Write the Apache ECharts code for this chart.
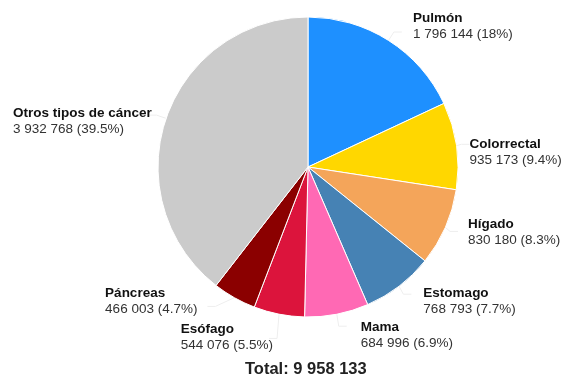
<!DOCTYPE html>
<html>
<head>
<meta charset="utf-8">
<script src="https://cdn.jsdelivr.net/npm/echarts@6/dist/echarts.min.js"></script>
<style>
html, body { margin: 0; padding: 0; background: #fff; }
#chart { width: 561px; height: 377px; }
</style>
</head>
<body>
<div id="chart"></div>
<script>
var categories = ['Pulmón', 'Colorrectal', 'Hígado', 'Estomago', 'Mama', 'Esófago', 'Páncreas', 'Otros tipos de cáncer'];
var values = [1796144, 935173, 830180, 768793, 684996, 544076, 466003, 3932768];
var valueLabels = ['1 796 144', '935 173', '830 180', '768 793', '684 996', '544 076', '466 003', '3 932 768'];
var percentLabels = ['18%', '9.4%', '8.3%', '7.7%', '6.9%', '5.5%', '4.7%', '39.5%'];
var colors = ['#1e90ff', '#ffd700', '#f4a55a', '#4682b4', '#ff69b4', '#dc143c', '#8b0000', '#cbcbcb'];
var totalText = 'Total: 9 958 133';

// small nudges so the labels sit where they do in the original
var labelShift = [[6, -6], [-5, 8], [5, 1], [7, 7], [9, 9], [9, -1], [-5, -5], [3, 6]];

var chart = echarts.init(document.getElementById('chart'), null, {renderer: 'canvas'});

var data = categories.map(function (c, i) {
    return {name: c, value: values[i], itemStyle: {color: colors[i]}};
});

var option = {
    animation: false,
    title: {
        text: totalText,
        left: 240,
        top: 356,
        textStyle: {fontFamily: 'Liberation Sans', fontSize: 16.5, fontWeight: 'bold', color: '#222'}
    },
    series: [{
        type: 'pie',
        center: [308, 167],
        radius: [0, 150],
        startAngle: 90,
        clockwise: true,
        data: data,
        itemStyle: {borderColor: '#fff', borderWidth: 1},
        label: {
            show: true,
            position: 'outside',
            alignTo: 'none',
            overflow: 'none',
            formatter: function (p) {
                var i = p.dataIndex;
                return '{b|' + categories[i] + '}\n{v|' + valueLabels[i] + ' (' + percentLabels[i] + ')}';
            },
            rich: {
                b: {fontFamily: 'Liberation Sans', fontSize: 13.5, fontWeight: 'bold', color: '#111', lineHeight: 16, align: 'left'},
                v: {fontFamily: 'Liberation Sans', fontSize: 13.5, color: '#333', lineHeight: 16, align: 'left'}
            }
        },
        labelLine: {
            show: true,
            length: 10,
            length2: 8,
            lineStyle: {color: '#eeeeee', width: 1}
        },
        labelLayout: function (p) {
            var s = labelShift[p.dataIndex];
            return {dx: s[0], dy: s[1]};
        }
    }]
};
chart.setOption(option);
</script>
</body>
</html>
